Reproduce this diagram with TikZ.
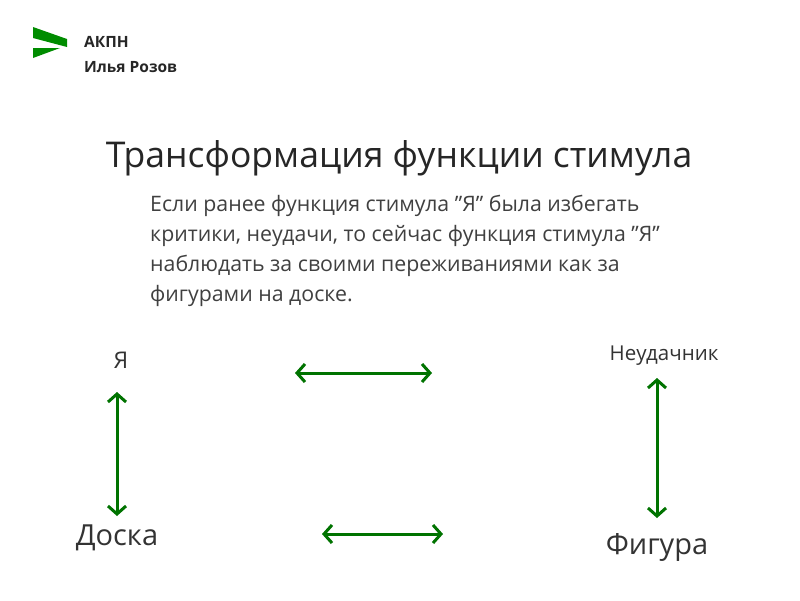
\documentclass[tikz,border=0pt]{standalone}
\usepackage{fontspec}
\usetikzlibrary{arrows.meta}
\setmainfont{Open Sans}
\newcommand{\q}{\symbol{34}}
\begin{document}
\begin{tikzpicture}[x=1pt,y=-1pt,
  arr/.style={draw=green!45!black,line width=3pt,{Straight Barb[length=8pt,width=18pt]}-{Straight Barb[length=8pt,width=18pt]}},
  lbl/.style={inner sep=0pt,text=black!80}]
\useasboundingbox[fill=white] (0,0) rectangle (800,600);
\fill[green!55!black] (33,27) -- (67,39) -- (67,47) -- (33,38) -- cycle;
\fill[green!55!black] (33,48) -- (60,48) -- (33,58) -- cycle;
\node[lbl,anchor=west,font=\bfseries\fontsize{15.5}{18}\selectfont,text=black!85] (t1) at (84,42) {АКПН};
\node[lbl,anchor=west,font=\bfseries\fontsize{15.5}{18}\selectfont,text=black!85] (t2) at (84,67) {Илья Розов};
\node[lbl,font=\fontsize{35.5}{40}\selectfont,text=black!85] (title) at (399,158) {Трансформация функции стимула};
\node[lbl,anchor=north west,align=left,font=\fontsize{21.3}{30}\selectfont,text=black!75] (para) at (150,195) {Если ранее функция стимула \q Я\q{} была избегать\\критики, неудачи, то сейчас функция стимула \q Я\q\\наблюдать за своими переживаниями как за\\фигурами на доске.};
\node[lbl,font=\fontsize{23}{26}\selectfont] (ya) at (121,360) {Я};
\node[lbl,font=\fontsize{20.5}{24}\selectfont] (neu) at (664,356) {Неудачник};
\node[lbl,font=\fontsize{29}{34}\selectfont] (doska) at (117,538) {Доска};
\node[lbl,font=\fontsize{29}{34}\selectfont] (fig) at (657,547) {Фигура};
\coordinate (h1a) at (295,373); \coordinate (h1b) at (432,373);
\coordinate (h2a) at (322,534); \coordinate (h2b) at (443,534);
\coordinate (v1a) at (117,392); \coordinate (v1b) at (117,516);
\coordinate (v2a) at (657,378); \coordinate (v2b) at (657,518);
\draw[arr] (h1a) -- (h1b);
\draw[arr] (h2a) -- (h2b);
\draw[arr] (v1a) -- (v1b);
\draw[arr] (v2a) -- (v2b);
\end{tikzpicture}
\end{document}
